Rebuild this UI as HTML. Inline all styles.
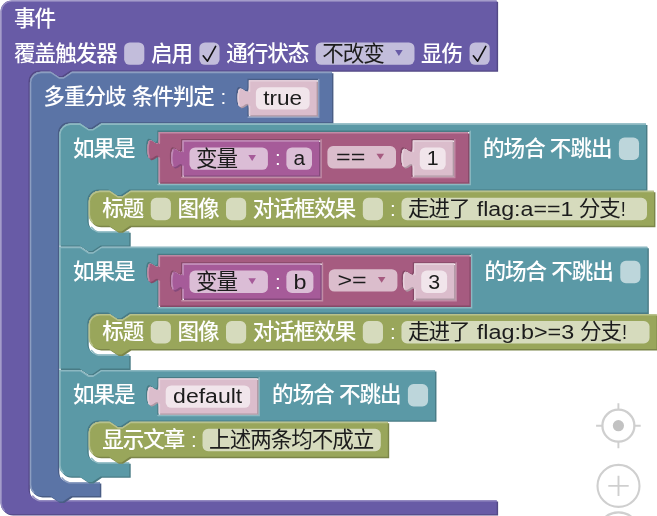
<!DOCTYPE html>
<html lang="zh-CN"><head><meta charset="utf-8"><title>事件</title>
<style>
html,body{margin:0;padding:0;background:#fff;}
body{width:657px;height:516px;overflow:hidden;}
svg{display:block;will-change:transform;}
text{font-family:"Liberation Sans","Noto Sans CJK SC",sans-serif;font-size:14.667px;}
.lb{fill:#fff;font-weight:500;}
.cj{font-size:15.4px;letter-spacing:-0.733px;}
.et{fill:#1c1c1c;}
.fr{fill:#fff;fill-opacity:.6;}
.hl{fill:none;stroke-width:1;stroke-linecap:round;}
.ck{fill:none;stroke:#111;stroke-width:1.15;stroke-linecap:round;stroke-linejoin:round;}
.zc{fill:none;stroke:#cfcfcf;}
</style></head>
<body>
<svg width="657" height="516" viewBox="0 0 657 516">
<rect width="657" height="516" fill="#fff"/>

<g class="zc">
 <circle cx="618.4" cy="425.7" r="16" stroke-width="2.3"/>
 <circle cx="618.4" cy="425.7" r="5.6" fill="#c2c2c2" stroke="none"/>
 <path stroke-width="1.9" d="M618.4,403.2 v6.5 M618.4,441.7 v6.5 M596.1,425.7 h6.3 M634.4,425.7 h6.3"/>
 <circle cx="618.5" cy="485.9" r="21" stroke-width="2.1"/>
 <path stroke-width="1.9" d="M608.3,485.9 h20.4 M618.5,475.7 v20.4"/>
 <circle cx="618.5" cy="533.4" r="21" stroke-width="2.1"/>
</g>

<g transform="translate(0.5,0.4) scale(1.4)">
<g transform="translate(0,0)">
<path fill="#534985" transform="translate(1,1)" d="m 0,8 A 8,8 0 0,1 8,0 H 354.44 v 25 v 25 H 50 l -6,4 -3,0 -6,-4 h -7 a 8,8 0 0,0 -8,8 v 291 a 8,8 0 0,0 8,8 H 354.44 v 10 H 8 a 8,8 0 0,1 -8,-8 z "/>
<path fill="#685ba6" d="m 0,8 A 8,8 0 0,1 8,0 H 354.44 v 25 v 25 H 50 l -6,4 -3,0 -6,-4 h -7 a 8,8 0 0,0 -8,8 v 291 a 8,8 0 0,0 8,8 H 354.44 v 10 H 8 a 8,8 0 0,1 -8,-8 z "/>
<path class="hl" stroke="#958cc1" d="m 0.5,7.5 A 7.5,7.5 0 0,1 8,0.5 H 353.94 M 22.99,354.01 a 8.5,8.5 0 0,0 5.01041,3.48959 H 353.94 M 2.7,364.3 A 7.5,7.5 0 0,1 0.5,359 V 8 "/>
<g transform="translate(10,5)"><text class="lb cj" x="-0.3" y="13.1">事件</text></g>
<g transform="translate(10,30)"><text class="lb cj" x="-0.3" y="13.1">覆盖触发器</text></g>
<g transform="translate(93.33,30)"><rect class="fr" x="-5" y="0" width="14.4" height="16" rx="4" ry="4"/></g>
<g transform="translate(107.73,30)"><text class="lb cj" x="-0.3" y="13.1">启用</text></g>
<g transform="translate(147.07,30)"><rect class="fr" x="-5" y="0" width="14.4" height="16" rx="4" ry="4"/><path class="ck" d="M -2.3,9.6 L 0.8,13.4 L 6.6,2.9"/></g>
<g transform="translate(161.47,30)"><text class="lb cj" x="-0.3" y="13.1">通行状态</text></g>
<g transform="translate(230.14,30)"><rect class="fr" x="-5" y="0" width="70.57" height="16" rx="4" ry="4"/><text class="et cj" x="-0.3" y="13.1">不改变</text><path d="M 51.73,5.5 h 5.4 l -2.7,4.2 z" fill="#685ba6"/></g>
<g transform="translate(300.71,30)"><text class="lb cj" x="-0.3" y="13.1">显伤</text></g>
<g transform="translate(340.04,30)"><rect class="fr" x="-5" y="0" width="14.4" height="16" rx="4" ry="4"/><path class="ck" d="M -2.3,9.6 L 0.8,13.4 L 6.6,2.9"/></g>
<g transform="translate(21,51)">
<path fill="#495d85" transform="translate(1,1)" d="m 0,8 A 8,8 0 0,1 8,0 H 15 l 6,4 3,0 6,-4 H 50 H 215.8 v 36 H 50 l -6,4 -3,0 -6,-4 h -7 a 8,8 0 0,0 -8,8 v 241 a 8,8 0 0,0 8,8 H 50 v 10 H 29.5 l -6,4 -3,0 -6,-4 H 8 a 8,8 0 0,1 -8,-8 z M 205.8,5 h -50.4 v 5 c 0,10 -8,-8 -8,7.5 s 8,-2.5 8,7.5 v 7 h 50.4 z"/>
<path fill="#5b74a6" d="m 0,8 A 8,8 0 0,1 8,0 H 15 l 6,4 3,0 6,-4 H 50 H 215.8 v 36 H 50 l -6,4 -3,0 -6,-4 h -7 a 8,8 0 0,0 -8,8 v 241 a 8,8 0 0,0 8,8 H 50 v 10 H 29.5 l -6,4 -3,0 -6,-4 H 8 a 8,8 0 0,1 -8,-8 z M 205.8,5 h -50.4 v 5 c 0,10 -8,-8 -8,7.5 s 8,-2.5 8,7.5 v 7 h 50.4 z"/>
<path class="hl" stroke="#8c9ec1" d="m 0.5,7.5 A 7.5,7.5 0 0,1 8,0.5 H 15 l 6,4 3,0 6,-4 H 49.5 H 215.3 M 22.99,290.01 a 8.5,8.5 0 0,0 5.01041,3.48959 H 49.5 M 2.7,300.3 A 7.5,7.5 0 0,1 0.5,295 V 8 M 206.3,5.5 v 27 h -50.4 M 150.3,24.3 l 3.68,-2.1"/>
<g transform="translate(10,10)"><text class="lb cj" x="-0.3" y="13.1">多重分歧</text><text class="lb cj" x="62.8" y="13.1">条件判定</text><text class="lb" x="126.2" y="12.9">:</text></g>
<g transform="translate(156.4,6)">
<path fill="#af98a4" transform="translate(1,1)" d="m 0,0 H 20 H 48.4 v 25 H 0 V 20 c 0,-10 -8,8 -8,-7.5 s 8,2.5 8,-7.5 z "/>
<path fill="#dbbdcc" d="m 0,0 H 20 H 48.4 v 25 H 0 V 20 c 0,-10 -8,8 -8,-7.5 s 8,2.5 8,-7.5 z "/>
<path class="hl" stroke="#e6d1dc" d="m 0.5,0.5 H 19.5 H 47.9 M 0.5,24.5 V 18.5 m -7.36,-0.5 q -1.52,-5.5 0,-11 m 7.36,1 V 0.5 H 1 "/>
<g transform="translate(10,5)"><rect class="fr" x="-5" y="0" width="38.4" height="16" rx="4" ry="4"/><text class="et" x="0.3" y="12.9" textLength="27.8" lengthAdjust="spacingAndGlyphs">true</text></g>
</g>
<g transform="translate(21,37)">
<path fill="#497b85" transform="translate(1,1)" d="m 0,8 A 8,8 0 0,1 8,0 H 15 l 6,4 3,0 6,-4 H 50 H 419.1 v 47 H 50 l -6,4 -3,0 -6,-4 h -7 a 8,8 0 0,0 -8,8 v 14 a 8,8 0 0,0 8,8 H 50 v 10 H 29.5 l -6,4 -3,0 -6,-4 H 0 z M 293,5 h -223 v 5 c 0,10 -8,-8 -8,7.5 s 8,-2.5 8,7.5 v 18 h 223 z"/>
<path fill="#5b99a6" d="m 0,8 A 8,8 0 0,1 8,0 H 15 l 6,4 3,0 6,-4 H 50 H 419.1 v 47 H 50 l -6,4 -3,0 -6,-4 h -7 a 8,8 0 0,0 -8,8 v 14 a 8,8 0 0,0 8,8 H 50 v 10 H 29.5 l -6,4 -3,0 -6,-4 H 0 z M 293,5 h -223 v 5 c 0,10 -8,-8 -8,7.5 s 8,-2.5 8,7.5 v 18 h 223 z"/>
<path class="hl" stroke="#8cb8c1" d="m 0.5,7.5 A 7.5,7.5 0 0,1 8,0.5 H 15 l 6,4 3,0 6,-4 H 49.5 H 418.6 M 22.99,74.01 a 8.5,8.5 0 0,0 5.01041,3.48959 H 49.5 M 0.5,86.5 V 8 M 293.5,5.5 v 38 h -223 M 64.9,24.3 l 3.68,-2.1"/>
<g transform="translate(10,10)"><text class="lb cj" x="-0.3" y="13.1">如果是</text></g>
<g transform="translate(303,10)"><text class="lb cj" x="-0.3" y="13.1">的场合</text><text class="lb cj" x="47.4" y="13.1">不跳出</text></g>
<g transform="translate(404.7,10)"><rect class="fr" x="-5" y="0" width="14.4" height="16" rx="4" ry="4"/></g>
<g transform="translate(71,6)">
<path fill="#854967" transform="translate(1,1)" d="m 0,0 H 20 H 221 v 36 H 0 V 20 c 0,-10 -8,8 -8,-7.5 s 8,2.5 8,-7.5 z M 115.5,5 h -99.5 v 5 c 0,10 -8,-8 -8,7.5 s 8,-2.5 8,7.5 v 7 h 99.5 z M 211,5 h -30.5 v 5 c 0,10 -8,-8 -8,7.5 s 8,-2.5 8,7.5 v 7 h 30.5 z"/>
<path fill="#a65b80" d="m 0,0 H 20 H 221 v 36 H 0 V 20 c 0,-10 -8,8 -8,-7.5 s 8,2.5 8,-7.5 z M 115.5,5 h -99.5 v 5 c 0,10 -8,-8 -8,7.5 s 8,-2.5 8,7.5 v 7 h 99.5 z M 211,5 h -30.5 v 5 c 0,10 -8,-8 -8,7.5 s 8,-2.5 8,7.5 v 7 h 30.5 z"/>
<path class="hl" stroke="#c18ca6" d="m 0.5,0.5 H 19.5 H 220.5 M 0.5,35.5 V 18.5 m -7.36,-0.5 q -1.52,-5.5 0,-11 m 7.36,1 V 0.5 H 1 M 116,5.5 v 27 h -99.5 M 10.9,24.3 l 3.68,-2.1 M 211.5,5.5 v 27 h -30.5 M 175.4,24.3 l 3.68,-2.1"/>
<g transform="translate(125.5,10)"><rect class="fr" x="-5" y="0" width="49" height="16" rx="4" ry="4"/><text class="et" x="1.2" y="12.9" textLength="20.9" lengthAdjust="spacingAndGlyphs">==</text><path d="M 30.06,5.5 h 5.4 l -2.7,4.2 z" fill="#a65b80"/></g>
<g transform="translate(17,6)">
<path fill="#85497b" transform="translate(1,1)" d="m 0,0 H 20 H 97.5 v 25 H 0 V 20 c 0,-10 -8,8 -8,-7.5 s 8,2.5 8,-7.5 z "/>
<path fill="#a65b99" d="m 0,0 H 20 H 97.5 v 25 H 0 V 20 c 0,-10 -8,8 -8,-7.5 s 8,2.5 8,-7.5 z "/>
<path class="hl" stroke="#c18cb8" d="m 0.5,0.5 H 19.5 H 97 M 0.5,24.5 V 18.5 m -7.36,-0.5 q -1.52,-5.5 0,-11 m 7.36,1 V 0.5 H 1 "/>
<g transform="translate(10,5)"><rect class="fr" x="-5" y="0" width="56" height="16" rx="4" ry="4"/><text class="et cj" x="-0.3" y="13.1">变量</text><path d="M 37.06,5.5 h 5.4 l -2.7,4.2 z" fill="#a65b99"/></g>
<g transform="translate(66,5)"><text class="lb" x="0" y="12.9">:</text></g>
<g transform="translate(79.2,5)"><rect class="fr" x="-5" y="0" width="18.3" height="16" rx="4" ry="4"/><text class="et" x="0" y="12.9" textLength="8.3" lengthAdjust="spacingAndGlyphs">a</text></g>
</g>
<g transform="translate(181.5,6)">
<path fill="#af98a4" transform="translate(1,1)" d="m 0,0 H 20 H 28.5 v 25 H 0 V 20 c 0,-10 -8,8 -8,-7.5 s 8,2.5 8,-7.5 z "/>
<path fill="#dbbdcc" d="m 0,0 H 20 H 28.5 v 25 H 0 V 20 c 0,-10 -8,8 -8,-7.5 s 8,2.5 8,-7.5 z "/>
<path class="hl" stroke="#e6d1dc" d="m 0.5,0.5 H 19.5 H 28 M 0.5,24.5 V 18.5 m -7.36,-0.5 q -1.52,-5.5 0,-11 m 7.36,1 V 0.5 H 1 "/>
<g transform="translate(10,5)"><rect class="fr" x="-5" y="0" width="18.5" height="16" rx="4" ry="4"/><text class="et" x="0" y="12.9" textLength="8.5" lengthAdjust="spacingAndGlyphs">1</text></g>
</g>
</g>
<g transform="translate(21,48)">
<path fill="#7b8549" transform="translate(1,1)" d="m 0,8 A 8,8 0 0,1 8,0 H 15 l 6,4 3,0 6,-4 H 40 H 403.8 v 25 H 29.5 l -6,4 -3,0 -6,-4 H 8 a 8,8 0 0,1 -8,-8 z "/>
<path fill="#99a65b" d="m 0,8 A 8,8 0 0,1 8,0 H 15 l 6,4 3,0 6,-4 H 40 H 403.8 v 25 H 29.5 l -6,4 -3,0 -6,-4 H 8 a 8,8 0 0,1 -8,-8 z "/>
<path class="hl" stroke="#b8c18c" d="m 0.5,7.5 A 7.5,7.5 0 0,1 8,0.5 H 15 l 6,4 3,0 6,-4 H 39.5 H 403.3 M 2.7,22.3 A 7.5,7.5 0 0,1 0.5,17 V 8 "/>
<g transform="translate(10,5)"><text class="lb cj" x="-0.3" y="13.1">标题</text></g>
<g transform="translate(49.33,5)"><rect class="fr" x="-5" y="0" width="14.4" height="16" rx="4" ry="4"/></g>
<g transform="translate(63.73,5)"><text class="lb cj" x="-0.3" y="13.1">图像</text></g>
<g transform="translate(103.07,5)"><rect class="fr" x="-5" y="0" width="14.4" height="16" rx="4" ry="4"/></g>
<g transform="translate(117.47,5)"><text class="lb cj" x="-0.3" y="13.1">对话框效果</text></g>
<g transform="translate(200.8,5)"><rect class="fr" x="-5" y="0" width="14.4" height="16" rx="4" ry="4"/></g>
<g transform="translate(215.2,5)"><text class="lb" x="0" y="12.9">:</text></g>
<g transform="translate(228.4,5)"><rect class="fr" x="-5" y="0" width="175.4" height="16" rx="4" ry="4"/><text class="et cj" x="-0.3" y="13.1">走进了</text><text class="et" x="48.8" y="12.9" textLength="69" lengthAdjust="spacingAndGlyphs">flag:a==1</text><text class="et cj" x="121.6" y="13.1">分支</text><text class="et" x="151.6" y="12.9" textLength="3.6" lengthAdjust="spacingAndGlyphs">!</text></g>
</g>
<g transform="translate(0,88)">
<path fill="#497b85" transform="translate(1,1)" d="m 0,0 H 15 l 6,4 3,0 6,-4 H 50 H 420.1 v 47 H 50 l -6,4 -3,0 -6,-4 h -7 a 8,8 0 0,0 -8,8 v 14 a 8,8 0 0,0 8,8 H 50 v 10 H 29.5 l -6,4 -3,0 -6,-4 H 0 z M 294,5 h -224 v 5 c 0,10 -8,-8 -8,7.5 s 8,-2.5 8,7.5 v 18 h 224 z"/>
<path fill="#5b99a6" d="m 0,0 H 15 l 6,4 3,0 6,-4 H 50 H 420.1 v 47 H 50 l -6,4 -3,0 -6,-4 h -7 a 8,8 0 0,0 -8,8 v 14 a 8,8 0 0,0 8,8 H 50 v 10 H 29.5 l -6,4 -3,0 -6,-4 H 0 z M 294,5 h -224 v 5 c 0,10 -8,-8 -8,7.5 s 8,-2.5 8,7.5 v 18 h 224 z"/>
<path class="hl" stroke="#8cb8c1" d="m 0.5,0.5 H 15 l 6,4 3,0 6,-4 H 49.5 H 419.6 M 22.99,74.01 a 8.5,8.5 0 0,0 5.01041,3.48959 H 49.5 M 0.5,86.5 V 0.5 M 294.5,5.5 v 38 h -224 M 64.9,24.3 l 3.68,-2.1"/>
<g transform="translate(10,10)"><text class="lb cj" x="-0.3" y="13.1">如果是</text></g>
<g transform="translate(304,10)"><text class="lb cj" x="-0.3" y="13.1">的场合</text><text class="lb cj" x="47.4" y="13.1">不跳出</text></g>
<g transform="translate(405.7,10)"><rect class="fr" x="-5" y="0" width="14.4" height="16" rx="4" ry="4"/></g>
<g transform="translate(71,6)">
<path fill="#854967" transform="translate(1,1)" d="m 0,0 H 20 H 222 v 36 H 0 V 20 c 0,-10 -8,8 -8,-7.5 s 8,2.5 8,-7.5 z M 116.5,5 h -100.5 v 5 c 0,10 -8,-8 -8,7.5 s 8,-2.5 8,7.5 v 7 h 100.5 z M 212,5 h -30.5 v 5 c 0,10 -8,-8 -8,7.5 s 8,-2.5 8,7.5 v 7 h 30.5 z"/>
<path fill="#a65b80" d="m 0,0 H 20 H 222 v 36 H 0 V 20 c 0,-10 -8,8 -8,-7.5 s 8,2.5 8,-7.5 z M 116.5,5 h -100.5 v 5 c 0,10 -8,-8 -8,7.5 s 8,-2.5 8,7.5 v 7 h 100.5 z M 212,5 h -30.5 v 5 c 0,10 -8,-8 -8,7.5 s 8,-2.5 8,7.5 v 7 h 30.5 z"/>
<path class="hl" stroke="#c18ca6" d="m 0.5,0.5 H 19.5 H 221.5 M 0.5,35.5 V 18.5 m -7.36,-0.5 q -1.52,-5.5 0,-11 m 7.36,1 V 0.5 H 1 M 117,5.5 v 27 h -100.5 M 10.9,24.3 l 3.68,-2.1 M 212.5,5.5 v 27 h -30.5 M 176.4,24.3 l 3.68,-2.1"/>
<g transform="translate(126.5,10)"><rect class="fr" x="-5" y="0" width="49" height="16" rx="4" ry="4"/><text class="et" x="1.2" y="12.9" textLength="20.9" lengthAdjust="spacingAndGlyphs">&gt;=</text><path d="M 30.06,5.5 h 5.4 l -2.7,4.2 z" fill="#a65b80"/></g>
<g transform="translate(17,6)">
<path fill="#85497b" transform="translate(1,1)" d="m 0,0 H 20 H 98.5 v 25 H 0 V 20 c 0,-10 -8,8 -8,-7.5 s 8,2.5 8,-7.5 z "/>
<path fill="#a65b99" d="m 0,0 H 20 H 98.5 v 25 H 0 V 20 c 0,-10 -8,8 -8,-7.5 s 8,2.5 8,-7.5 z "/>
<path class="hl" stroke="#c18cb8" d="m 0.5,0.5 H 19.5 H 98 M 0.5,24.5 V 18.5 m -7.36,-0.5 q -1.52,-5.5 0,-11 m 7.36,1 V 0.5 H 1 "/>
<g transform="translate(10,5)"><rect class="fr" x="-5" y="0" width="56" height="16" rx="4" ry="4"/><text class="et cj" x="-0.3" y="13.1">变量</text><path d="M 37.06,5.5 h 5.4 l -2.7,4.2 z" fill="#a65b99"/></g>
<g transform="translate(66,5)"><text class="lb" x="0" y="12.9">:</text></g>
<g transform="translate(79.2,5)"><rect class="fr" x="-5" y="0" width="19.3" height="16" rx="4" ry="4"/><text class="et" x="0" y="12.9" textLength="9.3" lengthAdjust="spacingAndGlyphs">b</text></g>
</g>
<g transform="translate(182.5,6)">
<path fill="#af98a4" transform="translate(1,1)" d="m 0,0 H 20 H 28.5 v 25 H 0 V 20 c 0,-10 -8,8 -8,-7.5 s 8,2.5 8,-7.5 z "/>
<path fill="#dbbdcc" d="m 0,0 H 20 H 28.5 v 25 H 0 V 20 c 0,-10 -8,8 -8,-7.5 s 8,2.5 8,-7.5 z "/>
<path class="hl" stroke="#e6d1dc" d="m 0.5,0.5 H 19.5 H 28 M 0.5,24.5 V 18.5 m -7.36,-0.5 q -1.52,-5.5 0,-11 m 7.36,1 V 0.5 H 1 "/>
<g transform="translate(10,5)"><rect class="fr" x="-5" y="0" width="18.5" height="16" rx="4" ry="4"/><text class="et" x="0" y="12.9" textLength="8.5" lengthAdjust="spacingAndGlyphs">3</text></g>
</g>
</g>
<g transform="translate(21,48)">
<path fill="#7b8549" transform="translate(1,1)" d="m 0,8 A 8,8 0 0,1 8,0 H 15 l 6,4 3,0 6,-4 H 40 H 405.6 v 25 H 29.5 l -6,4 -3,0 -6,-4 H 8 a 8,8 0 0,1 -8,-8 z "/>
<path fill="#99a65b" d="m 0,8 A 8,8 0 0,1 8,0 H 15 l 6,4 3,0 6,-4 H 40 H 405.6 v 25 H 29.5 l -6,4 -3,0 -6,-4 H 8 a 8,8 0 0,1 -8,-8 z "/>
<path class="hl" stroke="#b8c18c" d="m 0.5,7.5 A 7.5,7.5 0 0,1 8,0.5 H 15 l 6,4 3,0 6,-4 H 39.5 H 405.1 M 2.7,22.3 A 7.5,7.5 0 0,1 0.5,17 V 8 "/>
<g transform="translate(10,5)"><text class="lb cj" x="-0.3" y="13.1">标题</text></g>
<g transform="translate(49.33,5)"><rect class="fr" x="-5" y="0" width="14.4" height="16" rx="4" ry="4"/></g>
<g transform="translate(63.73,5)"><text class="lb cj" x="-0.3" y="13.1">图像</text></g>
<g transform="translate(103.07,5)"><rect class="fr" x="-5" y="0" width="14.4" height="16" rx="4" ry="4"/></g>
<g transform="translate(117.47,5)"><text class="lb cj" x="-0.3" y="13.1">对话框效果</text></g>
<g transform="translate(200.8,5)"><rect class="fr" x="-5" y="0" width="14.4" height="16" rx="4" ry="4"/></g>
<g transform="translate(215.2,5)"><text class="lb" x="0" y="12.9">:</text></g>
<g transform="translate(228.4,5)"><rect class="fr" x="-5" y="0" width="177.2" height="16" rx="4" ry="4"/><text class="et cj" x="-0.3" y="13.1">走进了</text><text class="et" x="48.8" y="12.9" textLength="69.6" lengthAdjust="spacingAndGlyphs">flag:b&gt;=3</text><text class="et cj" x="122.6" y="13.1">分支</text><text class="et" x="152.6" y="12.9" textLength="3.6" lengthAdjust="spacingAndGlyphs">!</text></g>
</g>
<g transform="translate(0,88)">
<path fill="#497b85" transform="translate(1,1)" d="m 0,0 H 15 l 6,4 3,0 6,-4 H 50 H 268.4 v 36 H 50 l -6,4 -3,0 -6,-4 h -7 a 8,8 0 0,0 -8,8 v 14 a 8,8 0 0,0 8,8 H 50 v 10 H 29.5 l -6,4 -3,0 -6,-4 H 8 a 8,8 0 0,1 -8,-8 z M 142.3,5 h -72.3 v 5 c 0,10 -8,-8 -8,7.5 s 8,-2.5 8,7.5 v 7 h 72.3 z"/>
<path fill="#5b99a6" d="m 0,0 H 15 l 6,4 3,0 6,-4 H 50 H 268.4 v 36 H 50 l -6,4 -3,0 -6,-4 h -7 a 8,8 0 0,0 -8,8 v 14 a 8,8 0 0,0 8,8 H 50 v 10 H 29.5 l -6,4 -3,0 -6,-4 H 8 a 8,8 0 0,1 -8,-8 z M 142.3,5 h -72.3 v 5 c 0,10 -8,-8 -8,7.5 s 8,-2.5 8,7.5 v 7 h 72.3 z"/>
<path class="hl" stroke="#8cb8c1" d="m 0.5,0.5 H 15 l 6,4 3,0 6,-4 H 49.5 H 267.9 M 22.99,63.01 a 8.5,8.5 0 0,0 5.01041,3.48959 H 49.5 M 2.7,73.3 A 7.5,7.5 0 0,1 0.5,68 V 0.5 M 142.8,5.5 v 27 h -72.3 M 64.9,24.3 l 3.68,-2.1"/>
<g transform="translate(10,10)"><text class="lb cj" x="-0.3" y="13.1">如果是</text></g>
<g transform="translate(152.3,10)"><text class="lb cj" x="-0.3" y="13.1">的场合</text><text class="lb cj" x="47.4" y="13.1">不跳出</text></g>
<g transform="translate(254,10)"><rect class="fr" x="-5" y="0" width="14.4" height="16" rx="4" ry="4"/></g>
<g transform="translate(71,6)">
<path fill="#af98a4" transform="translate(1,1)" d="m 0,0 H 20 H 70.3 v 25 H 0 V 20 c 0,-10 -8,8 -8,-7.5 s 8,2.5 8,-7.5 z "/>
<path fill="#dbbdcc" d="m 0,0 H 20 H 70.3 v 25 H 0 V 20 c 0,-10 -8,8 -8,-7.5 s 8,2.5 8,-7.5 z "/>
<path class="hl" stroke="#e6d1dc" d="m 0.5,0.5 H 19.5 H 69.8 M 0.5,24.5 V 18.5 m -7.36,-0.5 q -1.52,-5.5 0,-11 m 7.36,1 V 0.5 H 1 "/>
<g transform="translate(10,5)"><rect class="fr" x="-5" y="0" width="60.3" height="16" rx="4" ry="4"/><text class="et" x="0.3" y="12.9" textLength="49.4" lengthAdjust="spacingAndGlyphs">default</text></g>
</g>
<g transform="translate(21,37)">
<path fill="#7b8549" transform="translate(1,1)" d="m 0,8 A 8,8 0 0,1 8,0 H 15 l 6,4 3,0 6,-4 H 40 H 213.64 v 25 H 29.5 l -6,4 -3,0 -6,-4 H 8 a 8,8 0 0,1 -8,-8 z "/>
<path fill="#99a65b" d="m 0,8 A 8,8 0 0,1 8,0 H 15 l 6,4 3,0 6,-4 H 40 H 213.64 v 25 H 29.5 l -6,4 -3,0 -6,-4 H 8 a 8,8 0 0,1 -8,-8 z "/>
<path class="hl" stroke="#b8c18c" d="m 0.5,7.5 A 7.5,7.5 0 0,1 8,0.5 H 15 l 6,4 3,0 6,-4 H 39.5 H 213.14 M 2.7,22.3 A 7.5,7.5 0 0,1 0.5,17 V 8 "/>
<g transform="translate(10,5)"><text class="lb cj" x="-0.3" y="13.1">显示文章</text><text class="lb" x="63.1" y="12.9">:</text></g>
<g transform="translate(86.3,5)"><rect class="fr" x="-5" y="0" width="127.34" height="16" rx="4" ry="4"/><text class="et cj" x="-0.3" y="13.1">上述两条均不成立</text></g>
</g>
</g>
</g>
</g>
</g>
</g>
</g>
</svg>
</body></html>
